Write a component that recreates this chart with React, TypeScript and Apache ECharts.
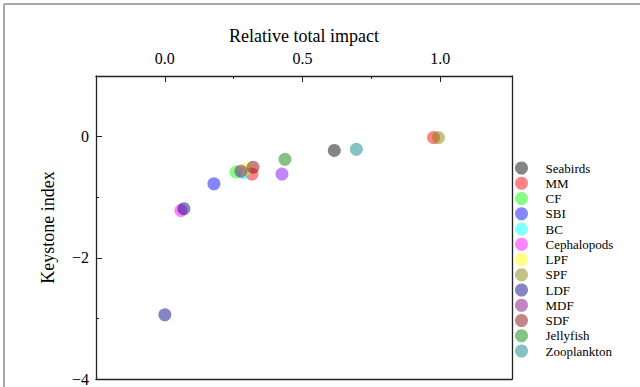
import React, { useEffect, useRef } from "react";
import * as echarts from "echarts";

// Species (legend order) and their base colours (drawn at 60% opacity)
const speciesNames = [
  "Seabirds", "MM", "CF", "SBI", "BC", "Cephalopods", "LPF",
  "SPF", "LDF", "MDF", "SDF", "Jellyfish", "Zooplankton",
];
const baseColors = [
  "0,0,0", "255,0,0", "0,255,0", "0,0,255", "0,255,255", "255,0,255", "255,255,0",
  "128,128,0", "0,0,128", "128,0,128", "128,0,0", "0,128,0", "0,128,128",
];

// [relative total impact, keystone index]
const seabirds = [[0.615, -0.228]];
const mm = [[0.975, -0.016], [0.316, -0.618]];
const cf = [[0.258, -0.585]];
const sbi = [[0.178, -0.78]];
const bc = [[0.287, -0.6]];
const cephalopods = [[0.058, -1.22]];
const lpf = [[0.29, -0.54]];
const spf = [[0.993, -0.016]];
const ldf = [[0.0, -2.94], [0.069, -1.19]];
const mdf = [[0.276, -0.57]];
const sdf = [[0.32, -0.504]];
const jellyfish = [[0.436, -0.374]];
const zooplankton = [[0.695, -0.21]];
const unlabelled = [[0.425, -0.618]];

const speciesPoints = [
  seabirds, mm, cf, sbi, bc, cephalopods, lpf, spf, ldf, mdf, sdf, jellyfish, zooplankton,
];

const xLabelValues = [0, 0.5, 1];
const xMinorTicks = [0.25, 0.75];
const yLabelValues = [0, -2, -4];
const yMinorTicks = [-1, -3];

const FONT = "Liberation Serif";
const AXIS_COLOR = "#222";

export default function App() {
  const ref = useRef<HTMLDivElement>(null);

  useEffect(() => {
    if (!ref.current) return;
    const chart = echarts.init(ref.current, undefined, { renderer: "svg" });

    const xMin = -0.25, xMax = 1.26, yMin = -4, yMax = 1;
    const hidden = { show: false };
    const line = { show: true, onZero: false, lineStyle: { color: AXIS_COLOR, width: 1.3 } };

    const series: any[] = speciesPoints.map((pts, i) => ({
      name: speciesNames[i],
      type: "scatter",
      xAxisIndex: 0,
      yAxisIndex: 0,
      symbol: "circle",
      symbolSize: 13,
      itemStyle: { color: `rgba(${baseColors[i]},0.6)` },
      data: pts,
    }));
    series.push({
      name: "unlabelled",
      type: "scatter",
      xAxisIndex: 0,
      yAxisIndex: 0,
      symbol: "circle",
      symbolSize: 13,
      itemStyle: { color: "rgba(128,0,255,0.6)" },
      data: unlabelled,
    });

    chart.setOption({
      animation: false,
      backgroundColor: "#fff",
      textStyle: { fontFamily: FONT },
      grid: { left: 96, top: 76, width: 416, height: 307, containLabel: false },
      legend: {
        orient: "vertical",
        left: 515,
        top: 161.5,
        padding: 0,
        itemWidth: 26,
        itemHeight: 13,
        itemGap: 2.25,
        icon: "circle",
        selectedMode: false,
        data: speciesNames,
        textStyle: { fontFamily: FONT, fontSize: 13, color: "#000", padding: [0, 0, 0, 6] },
      },
      xAxis: [
        {
          type: "value", position: "top", min: xMin, max: xMax,
          axisLine: line,
          axisTick: { show: true, inside: true, length: 6, customValues: xLabelValues, lineStyle: { color: AXIS_COLOR } },
          axisLabel: {
            customValues: xLabelValues, margin: 10, fontSize: 16, color: "#000", fontFamily: FONT,
            formatter: (v: number) => v.toFixed(1),
          },
          splitLine: hidden,
          name: "Relative total impact", nameLocation: "middle", nameGap: 30,
          nameTextStyle: { fontSize: 18, color: "#000", fontFamily: FONT },
        },
        {
          type: "value", position: "top", min: xMin, max: xMax,
          axisLine: { show: false, onZero: false },
          axisTick: { show: true, inside: true, length: 3, customValues: xMinorTicks, lineStyle: { color: AXIS_COLOR } },
          axisLabel: hidden, splitLine: hidden,
        },
        {
          type: "value", position: "bottom", min: xMin, max: xMax,
          axisLine: line, axisTick: hidden, axisLabel: hidden, splitLine: hidden,
        },
      ],
      yAxis: [
        {
          type: "value", position: "left", min: yMin, max: yMax,
          axisLine: line,
          axisTick: { show: true, inside: true, length: 6, customValues: yLabelValues, lineStyle: { color: AXIS_COLOR } },
          axisLabel: {
            customValues: yLabelValues, margin: 7, fontSize: 16, color: "#000", fontFamily: FONT,
            formatter: (v: number) => (v === 0 ? "0" : (v < 0 ? "\u2212" : "") + Math.abs(v)),
          },
          splitLine: hidden,
          name: "Keystone index", nameLocation: "middle", nameGap: 39, nameRotate: 90,
          nameTextStyle: { fontSize: 18, color: "#000", fontFamily: FONT },
        },
        {
          type: "value", position: "left", min: yMin, max: yMax,
          axisLine: { show: false, onZero: false },
          axisTick: { show: true, inside: true, length: 3, customValues: yMinorTicks, lineStyle: { color: AXIS_COLOR } },
          axisLabel: hidden, splitLine: hidden,
        },
        {
          type: "value", position: "right", min: yMin, max: yMax,
          axisLine: line, axisTick: hidden, axisLabel: hidden, splitLine: hidden,
        },
      ],
      graphic: [
        { type: "line", shape: { x1: 4, y1: 4, x2: 640, y2: 4 }, style: { stroke: "#a8a8a8", lineWidth: 2 } },
        { type: "line", shape: { x1: 4, y1: 4, x2: 4, y2: 387 }, style: { stroke: "#a8a8a8", lineWidth: 2 } },
      ],
      series,
    });

    return () => chart.dispose();
  }, []);

  return (
    <div
      ref={ref}
      style={{ position: "fixed", left: 0, top: 0, width: 640, height: 387 }}
    />
  );
}
